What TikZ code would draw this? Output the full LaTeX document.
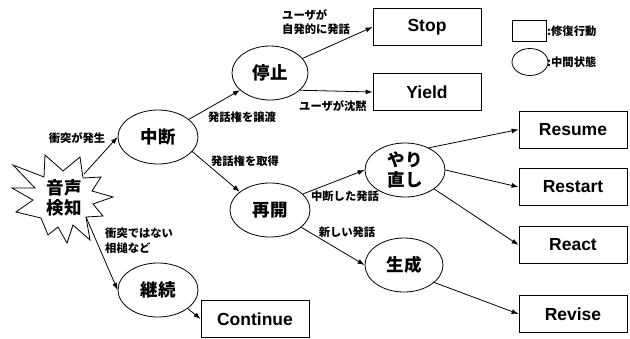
\documentclass[tikz,border=0pt]{standalone}
\usepackage{fontspec}
\setmainfont{Liberation Sans}
\newfontfamily\jp{Noto Sans CJK JP}
\usetikzlibrary{shapes.geometric,arrows.meta}
\tikzset{
  state/.style={ellipse,draw,line width=0.8pt,minimum width=80pt,minimum height=54pt,inner sep=0pt,align=center,font=\jp\bfseries\fontsize{17.5}{20}\selectfont},
  act/.style={rectangle,draw,line width=0.8pt,minimum width=108pt,minimum height=37pt,inner sep=0pt,font=\bfseries\fontsize{17.5}{20}\selectfont},
  lbl/.style={inner sep=0pt,align=left,font=\jp\bfseries\fontsize{11.3}{14.5}\selectfont},
  conn/.style={-{Latex[length=7pt,width=5pt]},line width=0.8pt}
}
\begin{document}
\begin{tikzpicture}[x=1pt,y=-1pt]
\useasboundingbox (0,0) rectangle (630,338);
\clip (0,0) rectangle (630,338);
% starburst
\draw[line width=0.8pt,line join=miter,fill=white]
  (13,165) -- (44,177) -- (45,155) -- (63,171) -- (80,157) -- (83,178)
  -- (101,177) -- (92,191) -- (113,197) -- (93,204) -- (103,216) -- (86,217)
  -- (90,240) -- (73,225) -- (67,243) -- (58,227) -- (48,235) -- (41,218)
  -- (16,212) -- (33,200) -- (12,188) -- (35,188) -- cycle;
\node[inner sep=0pt,align=center,font=\jp\bfseries\fontsize{17.5}{20}\selectfont] (sb) at (64,198) {音声\\検知};
\coordinate (sbne) at (84,174);
\coordinate (sbse) at (86,217);
% states
\node[state] (zd) at (158,137) {中断};
\node[state,minimum width=76pt] (tz) at (270,73) {停止};
\node[state] (sk) at (270,210) {再開};
\node[state] (yr) at (405,170) {やり\\直し};
\node[state,minimum width=78pt] (ss) at (404,265) {生成};
\node[state] (jz) at (158,290) {継続};
% actions
\node[act] (stop) at (427,27) {Stop};
\node[act] (yield) at (427,92) {Yield};
\node[act] (resume) at (573,129.5) {Resume};
\node[act] (restart) at (573,187) {Restart};
\node[act] (react) at (573,245) {React};
\node[act] (revise) at (573,314) {Revise};
\node[act] (cont) at (255,319) {Continue};
% legend
\node[draw,line width=0.8pt,minimum width=34pt,minimum height=21pt,inner sep=0pt] (lgbox) at (529,30.5) {};
\node[lbl,anchor=west] (lgboxt) at (547,31) {:修復行動};
\node[ellipse,draw,line width=0.8pt,minimum width=36pt,minimum height=27pt,inner sep=0pt] (lgell) at (530,62) {};
\node[lbl,anchor=west] (lgellt) at (547,62) {:中間状態};
% connectors
\draw[conn] (sbne) -- (zd.west);
\draw[conn] (sbse) -- (jz.west);
\draw[conn] (zd) -- (tz);
\draw[conn] (zd.-23) -- (sk.149);
\draw[conn] (tz) -- (stop.west);
\draw[conn] (tz.-30) -- (yield.west);
\draw[conn] (sk.26) -- (yr.west);
\draw[conn] (sk.-29) -- (ss.west);
\draw[conn] (yr.43) -- (resume.west);
\draw[conn] (yr.east) -- (restart.west);
\draw[conn] (yr.-33) -- (react.west);
\draw[conn] (ss.-30) -- (revise.west);
\draw[conn] (jz.-32) -- (cont.west);
% labels
\node[lbl] (l1) at (77,138) {衝突が発生};
\node[lbl] (l2) at (242,117) {発話権を譲渡};
\node[lbl] (l3) at (245,161) {発話権を取得};
\node[lbl,anchor=north west] (l4) at (105,228) {衝突ではない\\相槌など};
\node[lbl,anchor=north west] (l5) at (282,9) {ユーザが\\自発的に発話};
\node[lbl] (l6) at (333,106) {ユーザが沈黙};
\node[lbl] (l7) at (345,196) {中断した発話};
\node[lbl] (l8) at (347,232) {新しい発話};
\end{tikzpicture}
\end{document}
